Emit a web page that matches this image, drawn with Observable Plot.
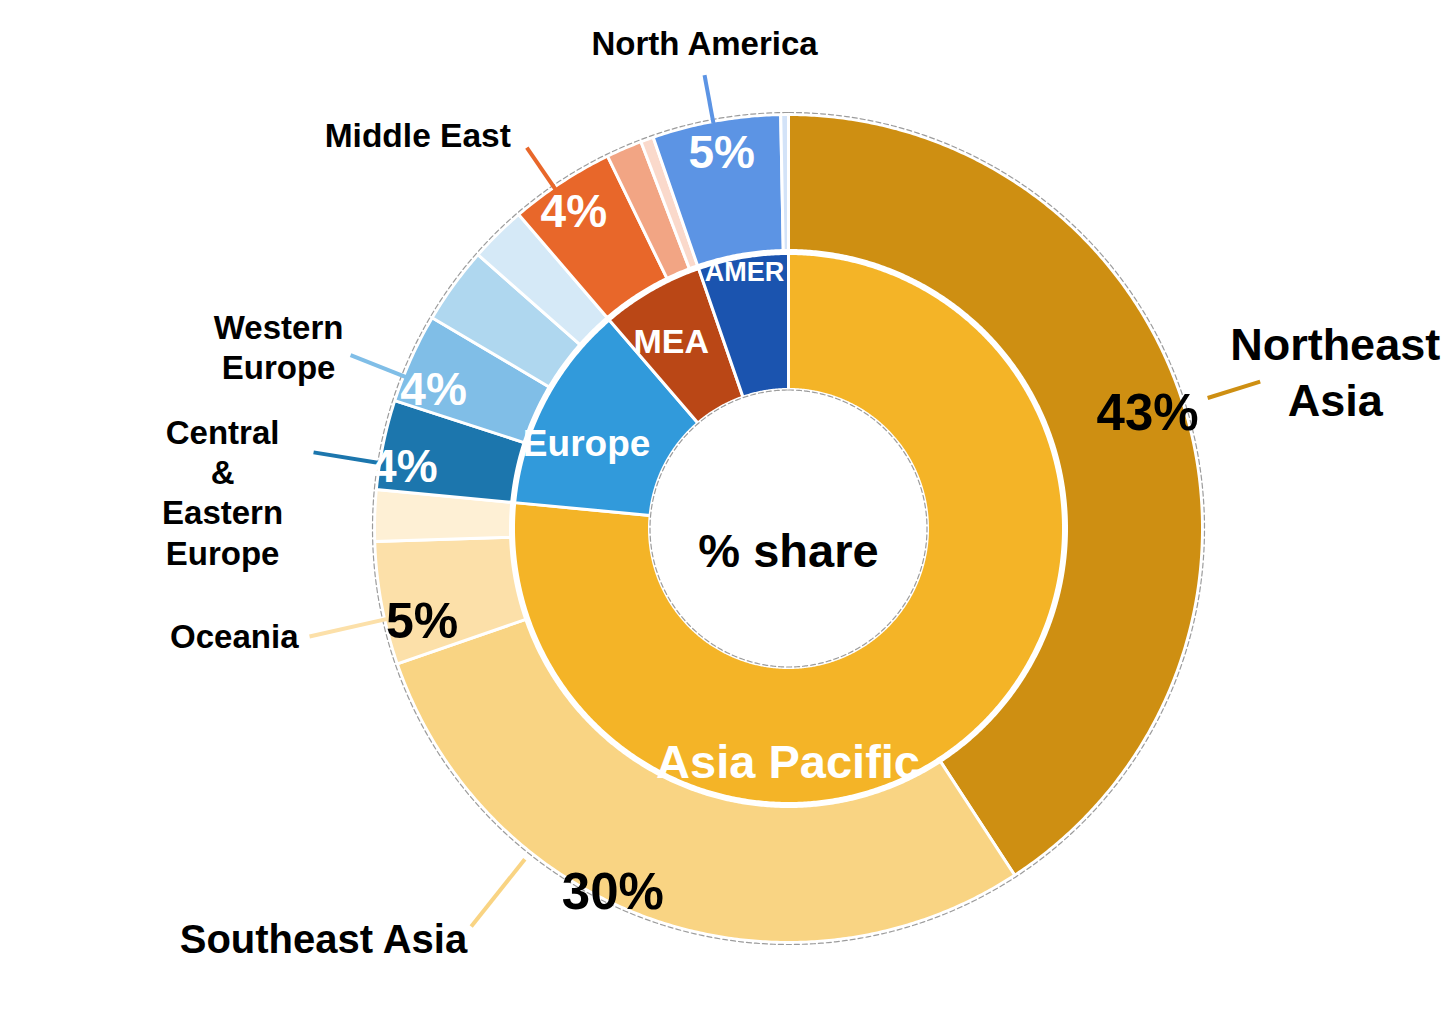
<!DOCTYPE html>
<html>
<head>
<meta charset="utf-8">
<script src="https://cdn.jsdelivr.net/npm/d3@7"></script>
<script src="https://cdn.jsdelivr.net/npm/@observablehq/plot@0.6"></script>
<style>
  html, body { margin: 0; padding: 0; background: #ffffff; }
  svg { display: block; }
</style>
</head>
<body>
<div id="chart"></div>
<script>
// ---------------- data ----------------
const regions = ["Asia Pacific", "Europe", "MEA", "AMER"];
const regionColors = ["#F4B427", "#319ADB", "#BA4716", "#1B54AF"];

const subregions = [
  "Northeast Asia", "Southeast Asia", "Oceania", "Other Asia Pacific",
  "Central & Eastern Europe", "Western Europe", "Other Europe A", "Other Europe B",
  "Middle East", "Other MEA A", "Other MEA B",
  "North America", "Other AMER"
];
const subregionParent = [
  "Asia Pacific", "Asia Pacific", "Asia Pacific", "Asia Pacific",
  "Europe", "Europe", "Europe", "Europe",
  "MEA", "MEA", "MEA",
  "AMER", "AMER"
];
const subregionShare = [40.8, 28.9, 4.8, 2.0, 3.5, 3.5, 3.0, 2.2, 4.1, 1.4, 0.5, 5.0, 0.3];
const subregionColors = [
  "#CE8F12", "#F9D483", "#FCE0A9", "#FEF0D5",
  "#1C76AD", "#80BEE7", "#AFD7EF", "#D5E9F7",
  "#E8672A", "#F2A584", "#FAD9CB",
  "#5C94E4", "#D3E3F8"
];
const shareLabels = ["43%", "30%", "5%", "", "4%", "4%", "", "", "4%", "", "", "5%", ""];
const nameLabels = [
  "Northeast\nAsia", "Southeast Asia", "Oceania", "",
  "Central\n&\nEastern\nEurope", "Western\nEurope", "", "",
  "Middle East", "", "",
  "North America", ""
];
const centerLabel = "% share";

// ---------------- layout (not data) ----------------
const W = 1456, H = 1018, CX = 788, CY = 528;
const R_HOLE = 139, R_IN = 275, R_OUT0 = 278, R_OUT1 = 414;
const FONT = "'Liberation Sans', Arial, Helvetica, sans-serif";

// lf: leader angle as fraction of slice, lr: leader radii; pf/pr: share label fraction/radius
const calloutLayout = {
  "Northeast Asia":           {lf: 0.495, lr: [439, 494], pf: 0.492, pr: 377, ps: 51, pc: "#000", dx: 75,  dy: -12, anchor: "middle", fs: 45, lh: 1.25},
  "Southeast Asia":           {lf: 0.689, lr: [423, 509], pf: 0.566, pr: 404, ps: 51, pc: "#000", dx: -4,  dy: 11,  anchor: "end",    fs: 40, lh: 1.2},
  "Oceania":                  {lf: 0.369, lr: [410, 491], pf: 0.279, pr: 378, ps: 50, pc: "#000", dx: -11, dy: -1,  anchor: "end",    fs: 33, lh: 1.2},
  "Central & Eastern Europe": {lf: 0.294, lr: [416, 481], pf: 0.286, pr: 389, ps: 46, pc: "#fff", dx: -91, dy: 39,  anchor: "middle", fs: 33, lh: 1.22},
  "Western Europe":           {lf: 0.286, lr: [410, 471], pf: 0.262, pr: 381, ps: 46, pc: "#fff", dx: -72, dy: -9,  anchor: "middle", fs: 33, lh: 1.22},
  "Middle East":              {lf: 0.419, lr: [409, 462], pf: 0.439, pr: 382, ps: 46, pc: "#fff", dx: -16, dy: -14, anchor: "end",    fs: 33.5, lh: 1.2},
  "North America":            {lf: 0.477, lr: [412, 461], pf: 0.499, pr: 381, ps: 46, pc: "#fff", dx: 0,   dy: -33, anchor: "middle", fs: 33, lh: 1.2}
};
const regionLabelLayout = {
  "Asia Pacific": {f: 0.654, r: 234, fs: 47},
  "Europe":       {f: 0.396, r: 219, fs: 37},
  "MEA":          {f: 0.393, r: 220, fs: 34},
  "AMER":         {f: 0.489, r: 260, fs: 27}
};

// ---------------- geometry from data ----------------
const total = d3.sum(subregionShare);
const toDeg = v => v / total * 360;
const polar = (deg, r) => {
  const a = deg * Math.PI / 180;
  return {x: r * Math.sin(a), y: r * Math.cos(a)};
};

// subregion slices
let acc = 0;
const subSlices = subregions.map((name, i) => {
  const a0 = toDeg(acc);
  acc += subregionShare[i];
  const a1 = toDeg(acc);
  return {name, parent: subregionParent[i], a0, a1, color: subregionColors[i], share: shareLabels[i], label: nameLabels[i]};
});
// region slices: sum of children
const regionSlices = regions.map((name, i) => {
  const kids = subSlices.filter(s => s.parent === name);
  return {name, a0: d3.min(kids, k => k.a0), a1: d3.max(kids, k => k.a1), color: regionColors[i]};
});

function ringPoints(id, a0, a1, r0, r1, color) {
  const pts = [];
  const n = Math.max(2, Math.ceil((a1 - a0) / 0.4));
  for (let i = 0; i <= n; i++) pts.push({id, color, ...polar(a0 + (a1 - a0) * i / n, r1)});
  for (let i = n; i >= 0; i--) pts.push({id, color, ...polar(a0 + (a1 - a0) * i / n, r0)});
  return pts;
}
function circlePoints(r) {
  return d3.range(0, 360, 0.5).map(a => polar(a, r));
}

const outerPts = subSlices.flatMap(s => ringPoints("o-" + s.name, s.a0, s.a1, R_OUT0, R_OUT1, s.color));
const innerPts = regionSlices.flatMap(s => ringPoints("i-" + s.name, s.a0, s.a1, R_HOLE, R_IN, s.color));

const callouts = subSlices.filter(s => calloutLayout[s.name]).map(s => {
  const L = calloutLayout[s.name];
  const la = s.a0 + (s.a1 - s.a0) * L.lf;
  const p1 = polar(la, L.lr[0]), p2 = polar(la, L.lr[1]);
  const pa = s.a0 + (s.a1 - s.a0) * L.pf;
  const pp = polar(pa, L.pr);
  return {...s, L, x1: p1.x, y1: p1.y, x2: p2.x, y2: p2.y, px: pp.x, py: pp.y};
});

const regionLabels = regionSlices.map(s => {
  const L = regionLabelLayout[s.name];
  const p = polar(s.a0 + (s.a1 - s.a0) * L.f, L.r);
  return {...s, L, x: p.x, y: p.y};
});

// ---------------- marks ----------------
const marks = [
  Plot.line(outerPts, {x: "x", y: "y", z: "id", fill: "color", stroke: "white", strokeWidth: 3, curve: "linear-closed"}),
  Plot.line(innerPts, {x: "x", y: "y", z: "id", fill: "color", stroke: "white", strokeWidth: 3, curve: "linear-closed"}),
  Plot.line(circlePoints(R_OUT1 + 2), {x: "x", y: "y", stroke: "#9c9c9c", strokeWidth: 1.2, strokeDasharray: "5,3", curve: "linear-closed"}),
  Plot.line(circlePoints(R_HOLE - 0.5), {x: "x", y: "y", stroke: "#9c9c9c", strokeWidth: 1.2, strokeDasharray: "5,3", curve: "linear-closed"}),
  Plot.link(callouts, {x1: "x1", y1: "y1", x2: "x2", y2: "y2", stroke: "color", strokeWidth: 4, strokeLinecap: "butt"})
];

// share labels on outer ring
for (const c of callouts) {
  marks.push(Plot.text([c], {
    x: "px", y: "py", text: "share", fill: c.L.pc, fontSize: c.L.ps, fontWeight: "bold", fontFamily: FONT
  }));
}
// region labels on inner ring
for (const r of regionLabels) {
  marks.push(Plot.text([r], {
    x: "x", y: "y", text: "name", fill: "white", fontSize: r.L.fs, fontWeight: "bold", fontFamily: FONT
  }));
}
// name labels at leader ends
for (const c of callouts) {
  marks.push(Plot.text([c], {
    x: "x2", y: "y2", text: "label", dx: c.L.dx, dy: c.L.dy, textAnchor: c.L.anchor,
    lineHeight: c.L.lh, fill: "black", fontSize: c.L.fs, fontWeight: "bold", fontFamily: FONT
  }));
}
// centre label
marks.push(Plot.text([centerLabel], {
  x: () => 0, y: () => 0, text: d => d, dy: 23, fill: "black", fontSize: 47, fontWeight: "bold", fontFamily: FONT
}));

const chart = Plot.plot({
  width: W,
  height: H,
  margin: 0,
  x: {domain: [-CX, W - CX], axis: null},
  y: {domain: [CY - H, CY], axis: null},
  color: {type: "identity"},
  style: {background: "white", fontFamily: FONT, overflow: "visible"},
  marks
});
document.getElementById("chart").appendChild(chart);
</script>
</body>
</html>
